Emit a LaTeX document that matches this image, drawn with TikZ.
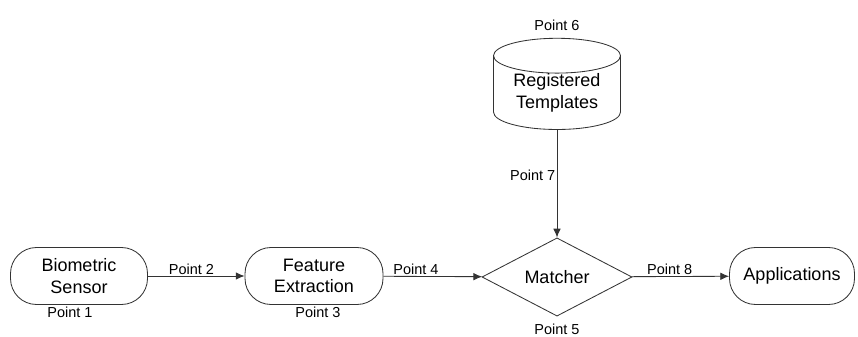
\documentclass[tikz,border=0pt]{standalone}
\usepackage{fontspec}
\setmainfont{Liberation Sans}
\usetikzlibrary{shapes.geometric,arrows.meta}
\pgfdeclarelayer{bg}
\pgfsetlayers{bg,main}
\tikzset{
        block/.style={draw=black!80, line width=0.6pt, rounded corners=0.65cm, align=center,
                font=\fontsize{12.8}{15.5}\selectfont, minimum height=1.425cm, inner sep=0pt},
        pt/.style={font=\fontsize{10.3}{12}\selectfont, inner sep=1pt},
        flow/.style={draw=black!80, line width=0.6pt, -{Latex[length=2.2mm, width=1.9mm]}},
}

\begin{document}
\begin{tikzpicture}[every label/.style={pt}]
        \useasboundingbox (0cm, 0cm) rectangle (21.45cm, 8.4cm);
        \node (sensor) [block, minimum width=3.425cm, label={[xshift=-0.225cm]below:{Point 1}}] at (1.975000cm, 1.500000cm) {Biometric\\Sensor};
        \node (extract) [block, minimum width=3.45cm, label={[xshift=0.1cm]below:{Point 3}}] at (7.850000cm, 1.500000cm) {Feature\\Extraction};
        \node (matcher) [diamond, draw=black!80, line width=0.6pt, inner sep=0pt, font=\fontsize{12.8}{15.5}\selectfont,
                minimum width=3.75cm, minimum height=1.725cm, label={[label distance=0.15cm]below:{Point 5}}] at (13.925000cm, 1.475000cm) {Matcher};
        \node (apps) [block, minimum width=3.125cm] at (19.800000cm, 1.500000cm) {Applications};
        \node (db) [cylinder, shape border rotate=90, aspect=0.4, draw=black!80, line width=0.6pt, align=center,
                font=\fontsize{12.8}{15.5}\selectfont, minimum width=3.175cm, minimum height=1.85cm, inner sep=0pt,
                label={[label distance=0.15cm]above:{Point 6}}] at (13.925000cm, 6.080000cm) {Registered\\Templates};
        \begin{pgfonlayer}{bg}
                \draw (sensor) edge [flow] node [pt, above, pos=0.45] {Point 2} (extract);
                \draw (extract) edge [flow] node [pt, above, pos=0.33] {Point 4} (matcher);
                \draw (matcher) edge [flow] node [pt, above, pos=0.39] {Point 8} (apps);
                \draw (db) edge [flow] node [pt, left, pos=0.42] {Point 7} (matcher);
        \end{pgfonlayer}
\end{tikzpicture}
\end{document}
